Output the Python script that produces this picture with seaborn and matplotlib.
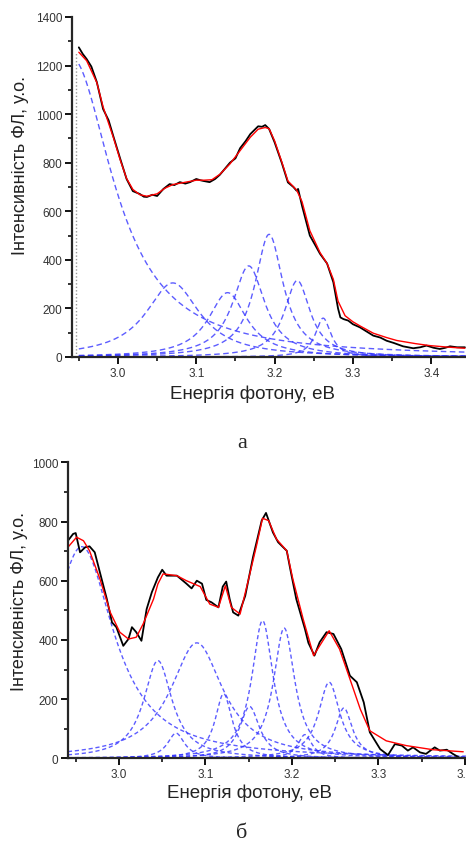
import numpy as np
import pandas as pd
import matplotlib
matplotlib.use("Agg")
import matplotlib.pyplot as plt
from matplotlib.ticker import MultipleLocator, FormatStrFormatter
import seaborn as sns

# ---------------- Panel а : data ----------------
a_exp_E = [2.950, 2.955, 2.960, 2.966, 2.973, 2.981, 2.988, 2.994, 3.003, 3.011, 3.019,
           3.028, 3.033, 3.037, 3.044, 3.050, 3.058, 3.066, 3.072, 3.079, 3.086, 3.092,
           3.100, 3.105, 3.109, 3.117, 3.124, 3.130, 3.143, 3.150, 3.156, 3.163, 3.169,
           3.179, 3.184, 3.188, 3.193, 3.200, 3.209, 3.217, 3.224, 3.228, 3.230, 3.235,
           3.245, 3.252, 3.258, 3.267, 3.275, 3.281, 3.284, 3.288, 3.294, 3.300, 3.309,
           3.318, 3.326, 3.335, 3.343, 3.352, 3.364, 3.377, 3.386, 3.394, 3.403, 3.411,
           3.418, 3.424, 3.433, 3.443]
a_exp_I = [1275, 1248, 1227, 1196, 1132, 1021, 975, 910, 815, 733, 683,
           671, 660, 659, 668, 663, 692, 712, 708, 720, 714, 720,
           733, 728, 725, 720, 733, 750, 800, 818, 860, 889, 918,
           950, 948, 955, 939, 884, 801, 719, 700, 685, 692, 623,
           500, 460, 425, 385, 308, 200, 163, 156, 150, 135, 122,
           104, 88, 80, 67, 58, 44, 36, 40, 47, 38, 33,
           38, 44, 40, 40]

a_fit_E = [2.950, 2.960, 2.973, 2.981, 2.994, 3.003, 3.011, 3.019, 3.028, 3.037, 3.050,
           3.060, 3.070, 3.080, 3.090, 3.100, 3.110, 3.120, 3.130, 3.143, 3.156, 3.169,
           3.179, 3.188, 3.193, 3.200, 3.209, 3.217, 3.228, 3.235, 3.245, 3.258, 3.267,
           3.275, 3.281, 3.290, 3.300, 3.309, 3.326, 3.343, 3.356, 3.380, 3.398, 3.420,
           3.443]
a_fit_I = [1255, 1220, 1130, 1030, 905, 810, 735, 690, 668, 662, 672,
           695, 710, 716, 722, 728, 728, 730, 752, 795, 850, 905,
           938, 945, 940, 890, 805, 725, 688, 640, 520, 430, 385,
           320, 230, 170, 145, 128, 98, 80, 68, 55, 47, 41,
           36]

# blue dashed components: centre (eV), height (a.u.), half width (eV)
a_peak_center = [2.940, 3.070, 3.140, 3.167, 3.193, 3.229, 3.262]
a_peak_height = [1235, 305, 265, 375, 505, 315, 160]
a_peak_hwhm = [0.065, 0.042, 0.030, 0.025, 0.022, 0.020, 0.012]

a_marker_E = 2.946       # grey dotted vertical line
a_marker_top = 1255

# ---------------- Panel б : data ----------------
b_exp_E = [2.941, 2.947, 2.950, 2.955, 2.961, 2.966, 2.972, 2.978, 2.986, 2.992, 2.997,
           3.005, 3.011, 3.015, 3.020, 3.026, 3.032, 3.038, 3.045, 3.050, 3.055, 3.067,
           3.078, 3.084, 3.090, 3.096, 3.101, 3.107, 3.115, 3.120, 3.124, 3.128, 3.132,
           3.138, 3.146, 3.155, 3.165, 3.170, 3.178, 3.184, 3.194, 3.198, 3.205, 3.215,
           3.219, 3.226, 3.232, 3.240, 3.248, 3.257, 3.267, 3.275, 3.283, 3.290, 3.302,
           3.311, 3.319, 3.327, 3.334, 3.340, 3.348, 3.355, 3.365, 3.371, 3.379, 3.386,
           3.393]
b_exp_I = [735, 758, 761, 696, 713, 716, 696, 628, 538, 459, 443,
           380, 403, 443, 426, 397, 504, 561, 611, 637, 617, 617,
           590, 574, 600, 590, 535, 527, 510, 580, 597, 538, 493,
           482, 549, 680, 803, 829, 763, 730, 701, 640, 538, 437,
           390, 347, 392, 426, 420, 369, 279, 257, 189, 88, 31,
           11, 48, 43, 26, 37, 20, 15, 37, 26, 29, 15,
           3]

b_fit_E = [2.941, 2.951, 2.959, 2.966, 2.978, 2.990, 3.001, 3.011, 3.020, 3.028, 3.040,
           3.045, 3.051, 3.067, 3.078, 3.094, 3.105, 3.115, 3.123, 3.130, 3.140, 3.149,
           3.159, 3.166, 3.173, 3.182, 3.194, 3.201, 3.213, 3.225, 3.232, 3.243, 3.255,
           3.267, 3.279, 3.290, 3.309, 3.332, 3.363, 3.398]
b_fit_I = [713, 747, 735, 701, 606, 493, 426, 403, 409, 454, 538,
           589, 623, 617, 600, 580, 521, 510, 583, 510, 487, 595,
           718, 811, 803, 741, 701, 606, 470, 347, 380, 431, 369,
           268, 166, 93, 59, 43, 29, 22]

b_peak_center = [2.957, 3.045, 3.066, 3.090, 3.121, 3.151, 3.166, 3.191, 3.215, 3.243, 3.260]
b_peak_height = [715, 330, 85, 390, 218, 175, 465, 440, 80, 257, 170]
b_peak_hwhm = [0.045, 0.020, 0.012, 0.037, 0.012, 0.014, 0.015, 0.015, 0.010, 0.015, 0.012]

x_label = "Енергія фотону, еВ"
y_label = "Інтенсивність ФЛ, у.о."
panel_labels = ["а", "б"]

# ---------------- styling ----------------
sns.set_style("ticks")
plt.rcParams["font.family"] = ["Liberation Sans", "DejaVu Sans"]
plt.rcParams["axes.linewidth"] = 1.6

BLUE = "#3434ff"
W, H = 466, 845
fig = plt.figure(figsize=(W / 100, H / 100), dpi=100)

ax_a = fig.add_axes([72 / W, 1 - 358 / H, (W - 72) / W, 340 / H])
ax_b = fig.add_axes([68 / W, 1 - 759.3 / H, (W - 68) / W, 296 / H])


def components_frame(centers, heights, widths, xmin, xmax):
    grid = np.linspace(xmin, xmax, 700)
    frames = []
    for k, (c, h, w) in enumerate(zip(centers, heights, widths)):
        frames.append(pd.DataFrame({"E": grid,
                                    "I": h / (1 + ((grid - c) / w) ** 2),
                                    "comp": f"c{k}"}))
    return pd.concat(frames, ignore_index=True)


def draw_panel(ax, exp_E, exp_I, fit_E, fit_I, centers, heights, widths,
               xlim, ylim, ymaj, dash, ylab_pos, xlab_pos):
    comp = components_frame(centers, heights, widths, exp_E[0], xlim[1])
    for name, g in comp.groupby("comp", sort=False):
        sns.lineplot(data=g, x="E", y="I", ax=ax, color=BLUE, lw=1.0, alpha=0.8,
                     linestyle=(0, dash), estimator=None, sort=False, legend=False)
    sns.lineplot(x=exp_E, y=exp_I, ax=ax, color="black", lw=1.3,
                 estimator=None, sort=False, legend=False)
    sns.lineplot(x=fit_E, y=fit_I, ax=ax, color="#ff0000", lw=1.0,
                 estimator=None, sort=False, legend=False)

    ax.set_xlim(*xlim)
    ax.set_ylim(*ylim)
    ax.xaxis.set_major_locator(MultipleLocator(0.1))
    ax.xaxis.set_minor_locator(MultipleLocator(0.05))
    ax.xaxis.set_major_formatter(FormatStrFormatter("%.1f"))
    ax.yaxis.set_major_locator(MultipleLocator(ymaj))
    ax.yaxis.set_minor_locator(MultipleLocator(ymaj / 2))
    ax.tick_params(which="major", direction="out", length=5, width=1.4,
                   labelsize=8.5, pad=2, colors="#111111", labelcolor="#333333")
    ax.tick_params(which="minor", direction="out", length=3, width=1.2, colors="#111111")
    for s in ("top", "right"):
        ax.spines[s].set_visible(False)
    ax.set_xlabel(x_label, fontsize=13.5, color="#222222")
    ax.set_ylabel(y_label, fontsize=13, color="#222222")
    ax.yaxis.set_label_coords(*ylab_pos)
    ax.xaxis.set_label_coords(*xlab_pos)


draw_panel(ax_a, a_exp_E, a_exp_I, a_fit_E, a_fit_I,
           a_peak_center, a_peak_height, a_peak_hwhm,
           (2.9413, 3.4444), (0, 1400), 200, (4, 2.5),
           (-0.108, 0.565), (0.459, -0.08))
ax_a.vlines(a_marker_E, 0, a_marker_top, colors="#999999", linestyles=(0, (1, 1.5)), lw=1.0)

draw_panel(ax_b, b_exp_E, b_exp_I, b_fit_E, b_fit_I,
           b_peak_center, b_peak_height, b_peak_hwhm,
           (2.9411, 3.4012), (0, 1000), 200, (3, 2),
           (-0.1, 0.534), (0.456, -0.085))

fig.text(242 / W, 1 - 444 / H, panel_labels[0], fontsize=16, ha="center", va="center",
         family=["Liberation Serif", "DejaVu Serif"])
fig.text(242 / W, 1 - 834 / H, panel_labels[1], fontsize=16, ha="center", va="center",
         family=["Liberation Serif", "DejaVu Serif"])

fig.savefig("out.png", dpi=100)
